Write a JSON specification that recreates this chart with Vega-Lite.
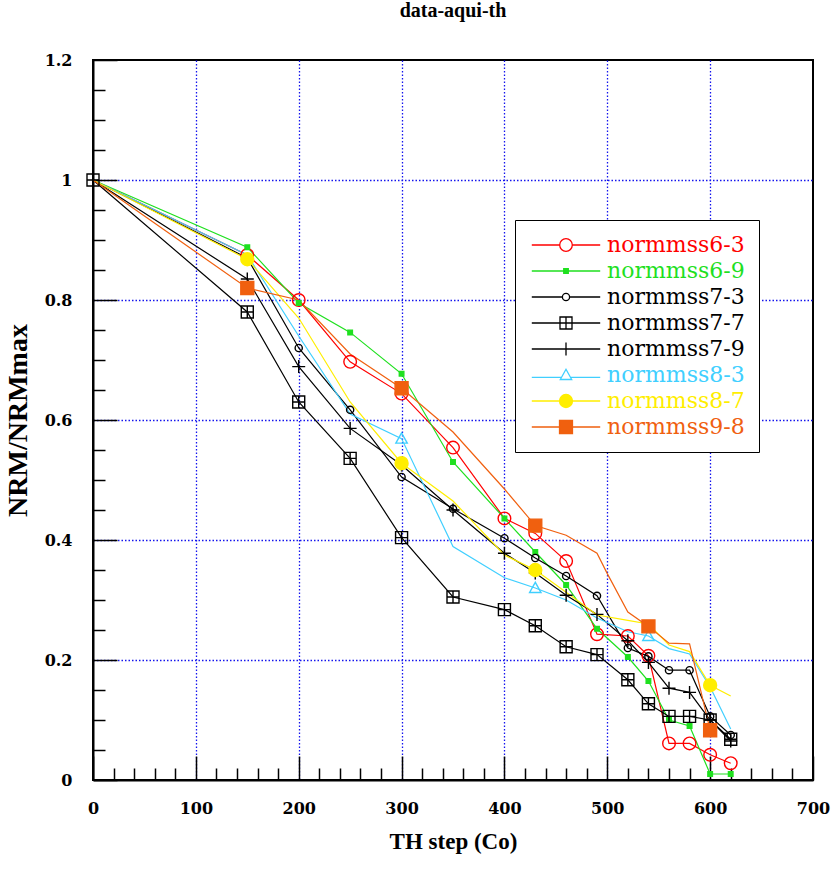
{
  "$schema": "https://vega.github.io/schema/vega-lite/v6.json",
  "width": 720,
  "height": 720,
  "autosize": {"type": "none"},
  "padding": {"left": 93, "top": 60, "right": 19, "bottom": 89},
  "background": "white",
  "title": {"text": "data-aqui-th", "font": "Liberation Serif", "fontWeight": "bold", "fontSize": 20, "anchor": "middle", "offset": 31, "color": "black"},
  "config": {
    "view": {"stroke": "black", "strokeWidth": 2},
    "axis": {"labelFont": "DejaVu Serif", "labelFontWeight": "bold", "labelFontSize": 16, "labelColor": "black", "titleFont": "Liberation Serif", "titleFontWeight": "bold", "titleColor": "black", "domainColor": "black", "domainWidth": 2, "tickColor": "black", "tickWidth": 1.5, "gridColor": "#1414ee", "gridDash": [1.5, 2], "gridWidth": 1.3, "labelOverlap": false, "labelFlush": false}
  },
  "datasets": {
    "lines": [
      {"series": "normmss6-3", "temp": 0, "nrm": 1}, {"series": "normmss6-3", "temp": 150, "nrm": 0.875}, {"series": "normmss6-3", "temp": 200, "nrm": 0.8}, {"series": "normmss6-3", "temp": 250, "nrm": 0.697}, {"series": "normmss6-3", "temp": 300, "nrm": 0.644}, {"series": "normmss6-3", "temp": 350, "nrm": 0.554}, {"series": "normmss6-3", "temp": 400, "nrm": 0.436}, {"series": "normmss6-3", "temp": 430, "nrm": 0.411}, {"series": "normmss6-3", "temp": 460, "nrm": 0.365}, {"series": "normmss6-3", "temp": 490, "nrm": 0.243}, {"series": "normmss6-3", "temp": 520, "nrm": 0.24}, {"series": "normmss6-3", "temp": 540, "nrm": 0.207}, {"series": "normmss6-3", "temp": 560, "nrm": 0.061}, {"series": "normmss6-3", "temp": 580, "nrm": 0.061}, {"series": "normmss6-3", "temp": 600, "nrm": 0.042}, {"series": "normmss6-3", "temp": 620, "nrm": 0.028},
      {"series": "normmss6-9", "temp": 0, "nrm": 1}, {"series": "normmss6-9", "temp": 150, "nrm": 0.888}, {"series": "normmss6-9", "temp": 200, "nrm": 0.795}, {"series": "normmss6-9", "temp": 250, "nrm": 0.746}, {"series": "normmss6-9", "temp": 300, "nrm": 0.677}, {"series": "normmss6-9", "temp": 350, "nrm": 0.53}, {"series": "normmss6-9", "temp": 400, "nrm": 0.436}, {"series": "normmss6-9", "temp": 430, "nrm": 0.38}, {"series": "normmss6-9", "temp": 460, "nrm": 0.325}, {"series": "normmss6-9", "temp": 490, "nrm": 0.252}, {"series": "normmss6-9", "temp": 520, "nrm": 0.205}, {"series": "normmss6-9", "temp": 540, "nrm": 0.165}, {"series": "normmss6-9", "temp": 560, "nrm": 0.1}, {"series": "normmss6-9", "temp": 580, "nrm": 0.09}, {"series": "normmss6-9", "temp": 600, "nrm": 0.01}, {"series": "normmss6-9", "temp": 620, "nrm": 0.01},
      {"series": "normmss7-3", "temp": 0, "nrm": 1}, {"series": "normmss7-3", "temp": 150, "nrm": 0.87}, {"series": "normmss7-3", "temp": 200, "nrm": 0.72}, {"series": "normmss7-3", "temp": 250, "nrm": 0.617}, {"series": "normmss7-3", "temp": 300, "nrm": 0.505}, {"series": "normmss7-3", "temp": 350, "nrm": 0.452}, {"series": "normmss7-3", "temp": 400, "nrm": 0.403}, {"series": "normmss7-3", "temp": 430, "nrm": 0.37}, {"series": "normmss7-3", "temp": 460, "nrm": 0.34}, {"series": "normmss7-3", "temp": 490, "nrm": 0.307}, {"series": "normmss7-3", "temp": 520, "nrm": 0.22}, {"series": "normmss7-3", "temp": 540, "nrm": 0.206}, {"series": "normmss7-3", "temp": 560, "nrm": 0.183}, {"series": "normmss7-3", "temp": 580, "nrm": 0.183}, {"series": "normmss7-3", "temp": 600, "nrm": 0.106}, {"series": "normmss7-3", "temp": 620, "nrm": 0.075},
      {"series": "normmss7-7", "temp": 0, "nrm": 1}, {"series": "normmss7-7", "temp": 150, "nrm": 0.78}, {"series": "normmss7-7", "temp": 200, "nrm": 0.63}, {"series": "normmss7-7", "temp": 250, "nrm": 0.536}, {"series": "normmss7-7", "temp": 300, "nrm": 0.404}, {"series": "normmss7-7", "temp": 350, "nrm": 0.305}, {"series": "normmss7-7", "temp": 400, "nrm": 0.284}, {"series": "normmss7-7", "temp": 430, "nrm": 0.257}, {"series": "normmss7-7", "temp": 460, "nrm": 0.222}, {"series": "normmss7-7", "temp": 490, "nrm": 0.209}, {"series": "normmss7-7", "temp": 520, "nrm": 0.167}, {"series": "normmss7-7", "temp": 540, "nrm": 0.127}, {"series": "normmss7-7", "temp": 560, "nrm": 0.106}, {"series": "normmss7-7", "temp": 580, "nrm": 0.106}, {"series": "normmss7-7", "temp": 600, "nrm": 0.1}, {"series": "normmss7-7", "temp": 620, "nrm": 0.068},
      {"series": "normmss7-9", "temp": 0, "nrm": 1}, {"series": "normmss7-9", "temp": 150, "nrm": 0.835}, {"series": "normmss7-9", "temp": 200, "nrm": 0.689}, {"series": "normmss7-9", "temp": 250, "nrm": 0.586}, {"series": "normmss7-9", "temp": 300, "nrm": 0.525}, {"series": "normmss7-9", "temp": 350, "nrm": 0.45}, {"series": "normmss7-9", "temp": 400, "nrm": 0.378}, {"series": "normmss7-9", "temp": 430, "nrm": 0.345}, {"series": "normmss7-9", "temp": 460, "nrm": 0.308}, {"series": "normmss7-9", "temp": 490, "nrm": 0.276}, {"series": "normmss7-9", "temp": 520, "nrm": 0.232}, {"series": "normmss7-9", "temp": 540, "nrm": 0.196}, {"series": "normmss7-9", "temp": 560, "nrm": 0.153}, {"series": "normmss7-9", "temp": 580, "nrm": 0.146}, {"series": "normmss7-9", "temp": 600, "nrm": 0.1}, {"series": "normmss7-9", "temp": 620, "nrm": 0.065},
      {"series": "normmss8-3", "temp": 0, "nrm": 1}, {"series": "normmss8-3", "temp": 150, "nrm": 0.875}, {"series": "normmss8-3", "temp": 200, "nrm": 0.74}, {"series": "normmss8-3", "temp": 250, "nrm": 0.61}, {"series": "normmss8-3", "temp": 300, "nrm": 0.569}, {"series": "normmss8-3", "temp": 350, "nrm": 0.389}, {"series": "normmss8-3", "temp": 400, "nrm": 0.337}, {"series": "normmss8-3", "temp": 430, "nrm": 0.32}, {"series": "normmss8-3", "temp": 460, "nrm": 0.3}, {"series": "normmss8-3", "temp": 490, "nrm": 0.27}, {"series": "normmss8-3", "temp": 520, "nrm": 0.247}, {"series": "normmss8-3", "temp": 540, "nrm": 0.24}, {"series": "normmss8-3", "temp": 560, "nrm": 0.219}, {"series": "normmss8-3", "temp": 580, "nrm": 0.21}, {"series": "normmss8-3", "temp": 600, "nrm": 0.155}, {"series": "normmss8-3", "temp": 620, "nrm": 0.085},
      {"series": "normmss8-7", "temp": 0, "nrm": 1}, {"series": "normmss8-7", "temp": 150, "nrm": 0.868}, {"series": "normmss8-7", "temp": 200, "nrm": 0.77}, {"series": "normmss8-7", "temp": 250, "nrm": 0.63}, {"series": "normmss8-7", "temp": 300, "nrm": 0.528}, {"series": "normmss8-7", "temp": 350, "nrm": 0.465}, {"series": "normmss8-7", "temp": 400, "nrm": 0.375}, {"series": "normmss8-7", "temp": 430, "nrm": 0.35}, {"series": "normmss8-7", "temp": 460, "nrm": 0.313}, {"series": "normmss8-7", "temp": 490, "nrm": 0.275}, {"series": "normmss8-7", "temp": 520, "nrm": 0.266}, {"series": "normmss8-7", "temp": 540, "nrm": 0.26}, {"series": "normmss8-7", "temp": 560, "nrm": 0.225}, {"series": "normmss8-7", "temp": 580, "nrm": 0.214}, {"series": "normmss8-7", "temp": 600, "nrm": 0.158}, {"series": "normmss8-7", "temp": 620, "nrm": 0.14},
      {"series": "normmss9-8", "temp": 0, "nrm": 1}, {"series": "normmss9-8", "temp": 150, "nrm": 0.82}, {"series": "normmss9-8", "temp": 200, "nrm": 0.8}, {"series": "normmss9-8", "temp": 250, "nrm": 0.71}, {"series": "normmss9-8", "temp": 300, "nrm": 0.653}, {"series": "normmss9-8", "temp": 350, "nrm": 0.58}, {"series": "normmss9-8", "temp": 400, "nrm": 0.485}, {"series": "normmss9-8", "temp": 430, "nrm": 0.424}, {"series": "normmss9-8", "temp": 460, "nrm": 0.408}, {"series": "normmss9-8", "temp": 490, "nrm": 0.378}, {"series": "normmss9-8", "temp": 500, "nrm": 0.344}, {"series": "normmss9-8", "temp": 520, "nrm": 0.28}, {"series": "normmss9-8", "temp": 540, "nrm": 0.256}, {"series": "normmss9-8", "temp": 560, "nrm": 0.228}, {"series": "normmss9-8", "temp": 580, "nrm": 0.227}, {"series": "normmss9-8", "temp": 600, "nrm": 0.083}
    ],
    "markers": [
      {"series": "normmss6-3", "temp": 150, "nrm": 0.875}, {"series": "normmss6-3", "temp": 200, "nrm": 0.8}, {"series": "normmss6-3", "temp": 250, "nrm": 0.697}, {"series": "normmss6-3", "temp": 300, "nrm": 0.644}, {"series": "normmss6-3", "temp": 350, "nrm": 0.554}, {"series": "normmss6-3", "temp": 400, "nrm": 0.436}, {"series": "normmss6-3", "temp": 430, "nrm": 0.411}, {"series": "normmss6-3", "temp": 460, "nrm": 0.365}, {"series": "normmss6-3", "temp": 490, "nrm": 0.243}, {"series": "normmss6-3", "temp": 520, "nrm": 0.24}, {"series": "normmss6-3", "temp": 540, "nrm": 0.207}, {"series": "normmss6-3", "temp": 560, "nrm": 0.061}, {"series": "normmss6-3", "temp": 580, "nrm": 0.061}, {"series": "normmss6-3", "temp": 600, "nrm": 0.042}, {"series": "normmss6-3", "temp": 620, "nrm": 0.028},
      {"series": "normmss6-9", "temp": 150, "nrm": 0.888}, {"series": "normmss6-9", "temp": 200, "nrm": 0.795}, {"series": "normmss6-9", "temp": 250, "nrm": 0.746}, {"series": "normmss6-9", "temp": 300, "nrm": 0.677}, {"series": "normmss6-9", "temp": 350, "nrm": 0.53}, {"series": "normmss6-9", "temp": 400, "nrm": 0.436}, {"series": "normmss6-9", "temp": 430, "nrm": 0.38}, {"series": "normmss6-9", "temp": 460, "nrm": 0.325}, {"series": "normmss6-9", "temp": 490, "nrm": 0.252}, {"series": "normmss6-9", "temp": 520, "nrm": 0.205}, {"series": "normmss6-9", "temp": 540, "nrm": 0.165}, {"series": "normmss6-9", "temp": 560, "nrm": 0.1}, {"series": "normmss6-9", "temp": 580, "nrm": 0.09}, {"series": "normmss6-9", "temp": 600, "nrm": 0.01}, {"series": "normmss6-9", "temp": 620, "nrm": 0.01},
      {"series": "normmss7-3", "temp": 150, "nrm": 0.87}, {"series": "normmss7-3", "temp": 200, "nrm": 0.72}, {"series": "normmss7-3", "temp": 250, "nrm": 0.617}, {"series": "normmss7-3", "temp": 300, "nrm": 0.505}, {"series": "normmss7-3", "temp": 350, "nrm": 0.452}, {"series": "normmss7-3", "temp": 400, "nrm": 0.403}, {"series": "normmss7-3", "temp": 430, "nrm": 0.37}, {"series": "normmss7-3", "temp": 460, "nrm": 0.34}, {"series": "normmss7-3", "temp": 490, "nrm": 0.307}, {"series": "normmss7-3", "temp": 520, "nrm": 0.22}, {"series": "normmss7-3", "temp": 540, "nrm": 0.206}, {"series": "normmss7-3", "temp": 560, "nrm": 0.183}, {"series": "normmss7-3", "temp": 580, "nrm": 0.183}, {"series": "normmss7-3", "temp": 600, "nrm": 0.106}, {"series": "normmss7-3", "temp": 620, "nrm": 0.075},
      {"series": "normmss7-7", "temp": 0, "nrm": 1}, {"series": "normmss7-7", "temp": 150, "nrm": 0.78}, {"series": "normmss7-7", "temp": 200, "nrm": 0.63}, {"series": "normmss7-7", "temp": 250, "nrm": 0.536}, {"series": "normmss7-7", "temp": 300, "nrm": 0.404}, {"series": "normmss7-7", "temp": 350, "nrm": 0.305}, {"series": "normmss7-7", "temp": 400, "nrm": 0.284}, {"series": "normmss7-7", "temp": 430, "nrm": 0.257}, {"series": "normmss7-7", "temp": 460, "nrm": 0.222}, {"series": "normmss7-7", "temp": 490, "nrm": 0.209}, {"series": "normmss7-7", "temp": 520, "nrm": 0.167}, {"series": "normmss7-7", "temp": 540, "nrm": 0.127}, {"series": "normmss7-7", "temp": 560, "nrm": 0.106}, {"series": "normmss7-7", "temp": 580, "nrm": 0.106}, {"series": "normmss7-7", "temp": 600, "nrm": 0.1}, {"series": "normmss7-7", "temp": 620, "nrm": 0.068},
      {"series": "normmss7-9", "temp": 150, "nrm": 0.835}, {"series": "normmss7-9", "temp": 200, "nrm": 0.689}, {"series": "normmss7-9", "temp": 250, "nrm": 0.586}, {"series": "normmss7-9", "temp": 300, "nrm": 0.525}, {"series": "normmss7-9", "temp": 350, "nrm": 0.45}, {"series": "normmss7-9", "temp": 400, "nrm": 0.378}, {"series": "normmss7-9", "temp": 430, "nrm": 0.345}, {"series": "normmss7-9", "temp": 460, "nrm": 0.308}, {"series": "normmss7-9", "temp": 490, "nrm": 0.276}, {"series": "normmss7-9", "temp": 520, "nrm": 0.232}, {"series": "normmss7-9", "temp": 540, "nrm": 0.196}, {"series": "normmss7-9", "temp": 560, "nrm": 0.153}, {"series": "normmss7-9", "temp": 580, "nrm": 0.146}, {"series": "normmss7-9", "temp": 600, "nrm": 0.1}, {"series": "normmss7-9", "temp": 620, "nrm": 0.065},
      {"series": "normmss8-3", "temp": 300, "nrm": 0.569}, {"series": "normmss8-3", "temp": 430, "nrm": 0.32}, {"series": "normmss8-3", "temp": 540, "nrm": 0.24},
      {"series": "normmss8-7", "temp": 150, "nrm": 0.868}, {"series": "normmss8-7", "temp": 300, "nrm": 0.528}, {"series": "normmss8-7", "temp": 430, "nrm": 0.35}, {"series": "normmss8-7", "temp": 600, "nrm": 0.158},
      {"series": "normmss9-8", "temp": 150, "nrm": 0.82}, {"series": "normmss9-8", "temp": 300, "nrm": 0.653}, {"series": "normmss9-8", "temp": 430, "nrm": 0.424}, {"series": "normmss9-8", "temp": 540, "nrm": 0.256}, {"series": "normmss9-8", "temp": 600, "nrm": 0.083}
    ]
  },
  "encoding": {
    "x": {"field": "temp", "type": "quantitative", "scale": {"domain": [0, 700], "nice": false, "zero": false},
      "axis": {"title": "TH step (Co)", "titlePadding": 2, "titleFontSize": 23,
        "values": [0,20,40,60,80,100,120,140,160,180,200,220,240,260,280,300,320,340,360,380,400,420,440,460,480,500,520,540,560,580,600,620,640,660,680,700],
        "tickSize": {"condition": {"test": "datum.value % 100 === 0", "value": -24}, "value": -12},
        "grid": true,
        "gridOpacity": {"condition": {"test": "datum.value % 100 === 0 && datum.value > 0 && datum.value < 700", "value": 1}, "value": 0},
        "labelExpr": "datum.value % 100 === 0 ? format(datum.value, 'd') : ''",
        "labelPadding": 44}},
    "y": {"field": "nrm", "type": "quantitative", "scale": {"domain": [0, 1.2], "nice": false},
      "axis": {"title": "NRM/NRMmax", "titlePadding": 12, "titleFontSize": 28,
        "values": [0,0.05,0.1,0.15,0.2,0.25,0.3,0.35,0.4,0.45,0.5,0.55,0.6,0.65,0.7,0.75,0.8,0.85,0.9,0.95,1,1.05,1.1,1.15,1.2],
        "tickSize": {"condition": {"test": "round(datum.value * 100) % 20 === 0", "value": -24}, "value": -12},
        "grid": true,
        "gridOpacity": {"condition": {"test": "round(datum.value * 100) % 20 === 0 && datum.value > 0.01 && datum.value < 1.19", "value": 1}, "value": 0},
        "labelExpr": "round(datum.value * 100) % 20 === 0 ? format(datum.value, '~g') : ''",
        "labelPadding": 45}},
    "color": {"field": "series", "type": "nominal",
      "scale": {"domain": ["normmss6-3", "normmss6-9", "normmss7-3", "normmss7-7", "normmss7-9", "normmss8-3", "normmss8-7", "normmss9-8"],
        "range": ["#ff0000", "#1fe01f", "#000000", "#000000", "#000000", "#40cfff", "#ffee00", "#f0600f"]},
      "legend": {"title": null, "orient": "none", "legendX": 422, "legendY": 160,
        "fillColor": "white", "strokeColor": "black", "padding": 14,
        "labelFont": "DejaVu Serif", "labelFontSize": 22, "labelLimit": 400,
        "labelColor": {"expr": "scale('color', datum.value)"},
        "symbolOffset": 26, "labelOffset": 30, "rowPadding": 4, "symbolSize": 144, "symbolStrokeWidth": 1.3, "symbolOpacity": 1,
        "symbolType": {"expr": "datum.value === 'normmss6-3' ? 'M-5.7,0H-1.05M1.05,0H5.7M1.05,0A1.05,1.05,0,1,1,-1.05,0A1.05,1.05,0,1,1,1.05,0' : datum.value === 'normmss6-9' ? 'M-5.7,0H5.7M-0.38,-0.38H0.38V0.38H-0.38Z' : datum.value === 'normmss7-3' ? 'M-5.7,0H-0.6M0.6,0H5.7M0.6,0A0.6,0.6,0,1,1,-0.6,0A0.6,0.6,0,1,1,0.6,0' : datum.value === 'normmss7-7' ? 'M-5.7,0H5.7M-1,-1H1V1H-1ZM0,-1V1' : datum.value === 'normmss7-9' ? 'M-5.7,0H5.7M0,-1.08V1.08' : datum.value === 'normmss8-3' ? 'M-5.7,0.4H-0.75M0.75,0.4H5.7M0,-0.95L-0.95,0.75H0.95Z' : datum.value === 'normmss8-7' ? 'M-5.7,0H5.7M1.08,0A1.08,1.08,0,1,1,-1.08,0A1.08,1.08,0,1,1,1.08,0' : 'M-5.7,0H5.7M-1.08,-1.08H1.08V1.08H-1.08Z'"},
        "symbolFillColor": {"expr": "indexof(['normmss6-9', 'normmss8-7', 'normmss9-8'], datum.value) >= 0 ? scale('color', datum.value) : 'transparent'"}}}
  },
  "layer": [
    {"data": {"name": "lines"}, "mark": {"type": "line", "strokeWidth": 1.2}, "encoding": {"detail": {"field": "series"}}},
    {"data": {"name": "markers"},
      "mark": {"type": "point", "filled": false, "strokeWidth": 1.4, "opacity": 1, "size": 144},
      "encoding": {
        "shape": {"field": "series", "type": "nominal", "legend": null,
          "scale": {"range": ["M1.05,0A1.05,1.05,0,1,1,-1.05,0A1.05,1.05,0,1,1,1.05,0", "M-0.38,-0.38H0.38V0.38H-0.38Z", "M0.6,0A0.6,0.6,0,1,1,-0.6,0A0.6,0.6,0,1,1,0.6,0", "M-1,-1H1V1H-1ZM-1,0H1M0,-1V1", "M-1.08,0H1.08M0,-1.08V1.08", "M0,-0.95L-0.95,0.75H0.95Z", "M1.08,0A1.08,1.08,0,1,1,-1.08,0A1.08,1.08,0,1,1,1.08,0", "M-1.08,-1.08H1.08V1.08H-1.08Z"]}},
        "fill": {"field": "series", "type": "nominal", "legend": null,
          "scale": {"range": ["transparent", "#1fe01f", "transparent", "transparent", "transparent", "transparent", "#ffee00", "#f0600f"]}}
      }}
  ]
}
